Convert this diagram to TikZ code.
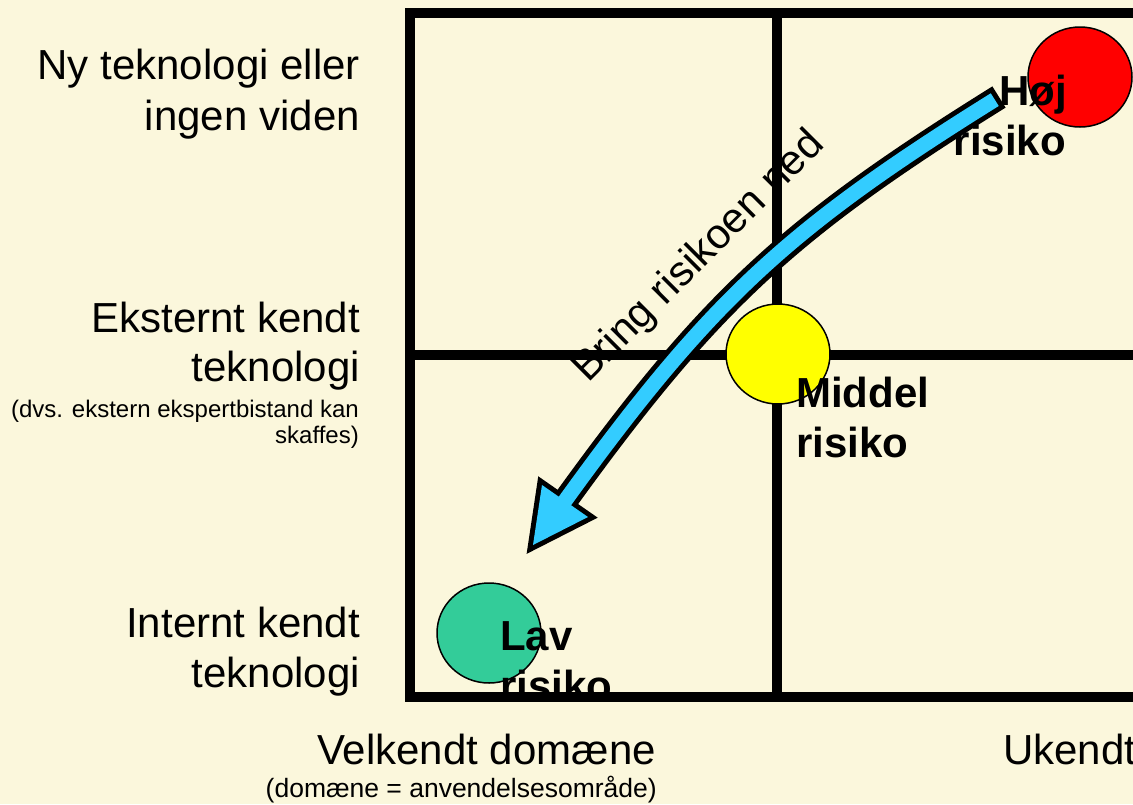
\documentclass[tikz,border=0pt]{standalone}
\usepackage{fontspec}
\setmainfont{Liberation Sans}
\usepackage{xcolor}
\usepackage{tikz}
\usetikzlibrary{shapes.geometric}

\definecolor{slidebg}{RGB}{251,247,220}
\definecolor{hojred}{RGB}{255,0,0}
\definecolor{middelyellow}{RGB}{255,255,0}
\definecolor{lavgreen}{RGB}{51,204,153}
\definecolor{arrowblue}{RGB}{51,204,255}

\tikzset{
  biglabel/.style={anchor=base east, inner sep=0pt, font=\fontsize{42}{50}\selectfont},
  smalllabel/.style={anchor=base east, inner sep=0pt, font=\fontsize{24}{28}\selectfont},
  risklabel/.style={inner sep=0pt, font=\fontsize{42}{50}\selectfont\bfseries},
  gridline/.style={line width=10pt},
  riskdot/.style={ellipse, draw=black, line width=1.5pt, minimum width=104pt, minimum height=100pt, inner sep=0pt},
}

\begin{document}
\begin{tikzpicture}[x=1pt,y=-1pt]
    \useasboundingbox (0,0) rectangle (1133,804);
    \clip (0,0) rectangle (1133,804);
    \fill[slidebg] (0,0) rectangle (1133,804);

    % inner grid lines
    \draw[gridline] (777,13) -- (777,697);
    \draw[gridline] (410,355) -- (1144,355);

    % row labels
    \node[biglabel] (ny1) at (360,79) {Ny teknologi eller};
    \node[biglabel] (ny2) at (360,130) {ingen viden};
    \node[biglabel] (ekst1) at (360,332) {Eksternt kendt};
    \node[biglabel] (ekst2) at (360,381) {teknologi};
    \node[smalllabel] (ekst3) at (359,417) {(dvs. ekstern ekspertbistand kan};
    \node[smalllabel] (ekst4) at (359,443) {skaffes)};
    \node[biglabel] (int1) at (360,637) {Internt kendt};
    \node[biglabel] (int2) at (360,687) {teknologi};

    % column labels
    \node[biglabel] (velkendt) at (656,764) {Velkendt domæne};
    \node[smalllabel, font=\fontsize{26.5}{30}\selectfont] (domaene) at (657,797) {(domæne = anvendelsesområde)};
    \node[biglabel, anchor=base west] (ukendt) at (1003,764) {Ukendt};

    % risk dots
    \node[riskdot, fill=hojred] (hoj) at (1080,77) {};
    \node[riskdot, fill=middelyellow] (middel) at (778,354) {};
    \node[riskdot, fill=lavgreen] (lav) at (489,633) {};

    \node[risklabel, anchor=base east] (hojtop) at (1067,105) {Høj};
    \node[risklabel, anchor=base east] (hojbot) at (1066,155) {risiko};
    \node[risklabel, anchor=base west] (midtop) at (796,407) {Middel};
    \node[risklabel, anchor=base west] (midbot) at (796,457) {risiko};
    \node[risklabel, anchor=base west] (lavtop) at (500,650) {Lav};
    \node[risklabel, anchor=base west] (lavbot) at (500,700) {risiko};

    % big curved arrow
    \coordinate (tail) at (999,97);
    \coordinate (c1) at (787,229);
    \coordinate (c2) at (709,301);
    \coordinate (headbase) at (562,505);
    \coordinate (tip) at (533,545);
    \coordinate (barbL) at (542,485);
    \coordinate (barbR) at (588,517);
    \draw[line width=25pt, black] (tail) .. controls (c1) and (c2) .. (headbase);
    \filldraw[black, line width=10pt, line join=miter] (tip) -- (barbL) -- (barbR) -- cycle;
    \draw[line width=15pt, arrowblue, shorten <=5pt] (tail) .. controls (c1) and (c2) .. (headbase);
    \fill[arrowblue] (tip) -- (barbL) -- (barbR) -- cycle;

    \node[anchor=base, rotate=45, inner sep=0pt, font=\fontsize{42}{50}\selectfont] (bring) at (707,265) {Bring risikoen ned};

    % outer border
    \draw[gridline] (410,13) rectangle (1144,697);
\end{tikzpicture}
\end{document}
